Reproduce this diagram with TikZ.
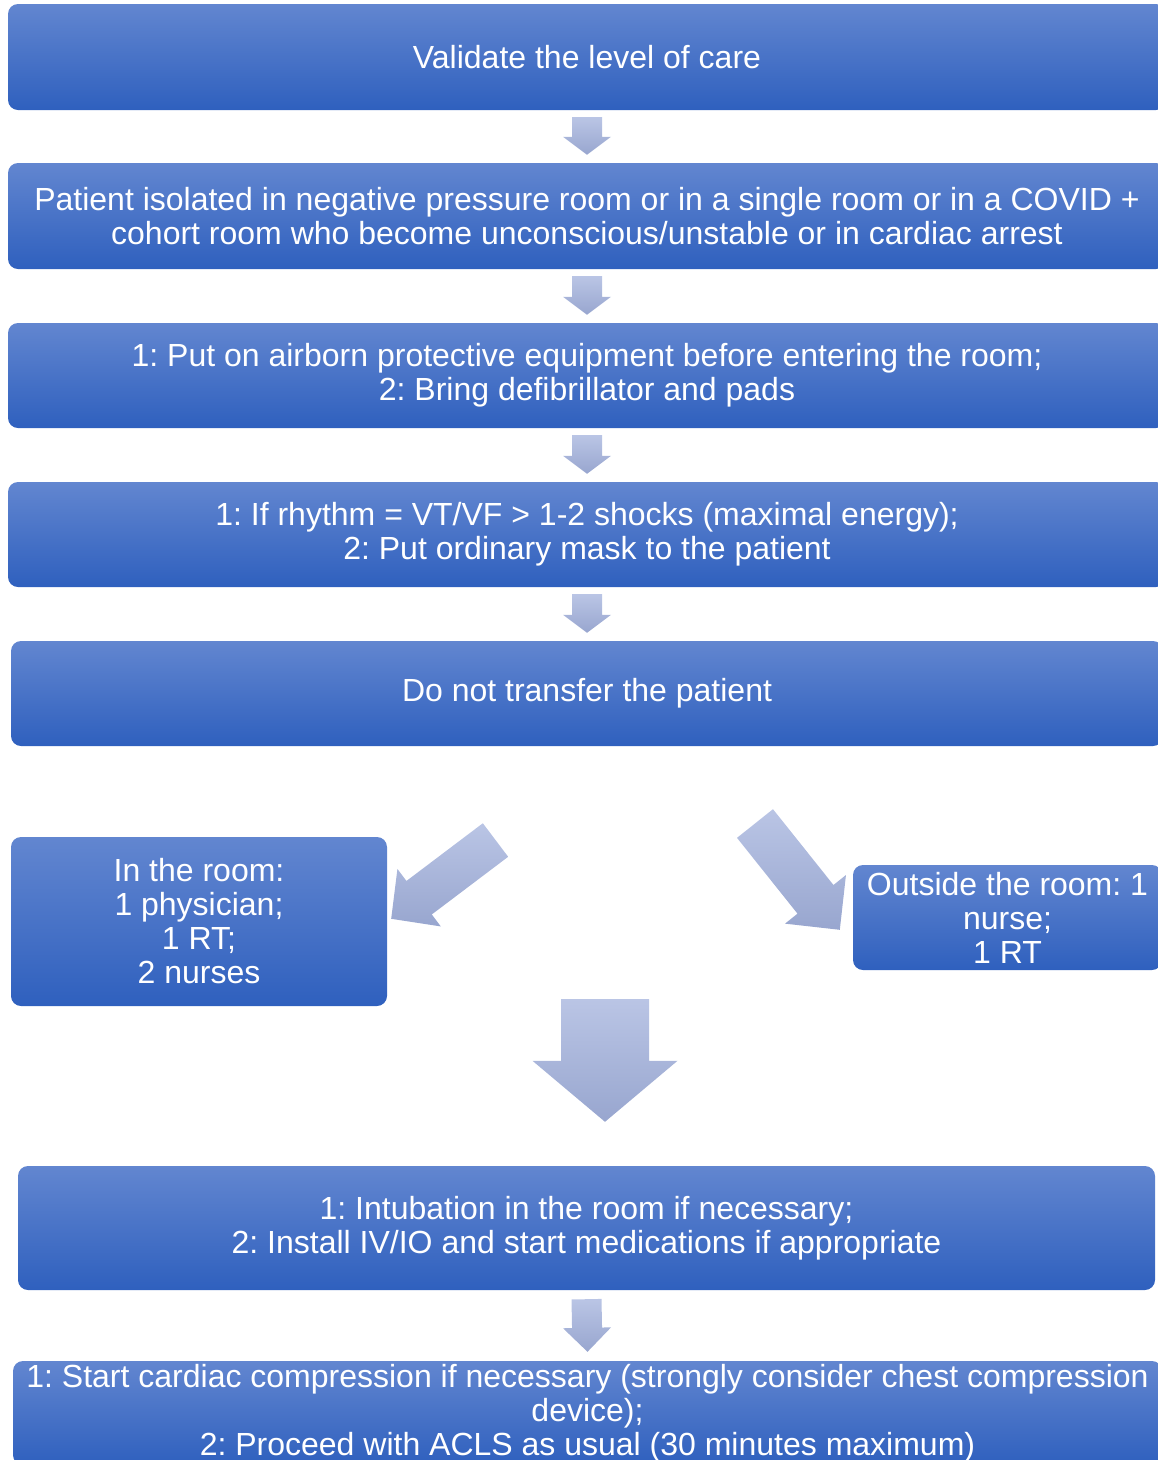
\documentclass[tikz,border=0pt]{standalone}
\usepackage{fontspec}
\setmainfont{Liberation Sans}
\usetikzlibrary{calc}
\definecolor{boxtop}{RGB}{98,134,208}
\definecolor{boxbot}{RGB}{47,96,190}
\definecolor{arrtop}{RGB}{186,197,229}
\definecolor{arrbot}{RGB}{152,166,207}
\frenchspacing
% block arrow: start, tip, shaft half width, head half width, head length
\newcommand{\blockarrow}[5]{%
  \coordinate (ab) at ($(#2)!#5!(#1)$);
  \shade[arrowshade] ($(#1)!#3!90:(#2)$) -- ($(ab)!#3!90:(#2)$) -- ($(ab)!#4!90:(#2)$) -- (#2)
    -- ($(ab)!#4!-90:(#2)$) -- ($(ab)!#3!-90:(#2)$) -- ($(#1)!#3!-90:(#2)$) -- cycle;
}
\begin{document}
\begin{tikzpicture}[x=1pt,y=-1pt,
    flowbox/.style={rectangle, rounded corners=10pt, top color=boxtop, bottom color=boxbot,
      text=white, align=center, inner sep=0pt, font=\fontsize{32}{34}\selectfont},
    arrowshade/.style={top color=arrtop, bottom color=arrbot, draw=none}]
    \useasboundingbox (0,0) rectangle (1158,1460);
    \clip (0,0) rectangle (1158,1460);
    % steps
    \node[flowbox, minimum width=1158pt, minimum height=106pt] (care) at (587,57) {Validate the level of care};
    \node[flowbox, minimum width=1158pt, minimum height=106pt] (isolate) at (587,216)
        {Patient isolated in negative pressure room or in a single room or in a COVID +\\cohort room who become unconscious/unstable or in cardiac arrest};
    \node[flowbox, minimum width=1158pt, minimum height=105pt] (protect) at (587,375.5)
        {1: Put on airborn protective equipment before entering the room;\\2: Bring defibrillator and pads};
    \node[flowbox, minimum width=1158pt, minimum height=105pt] (rhythm) at (587,534.5)
        {1: If rhythm = VT/VF > 1-2 shocks (maximal energy);\\2: Put ordinary mask to the patient};
    \node[flowbox, minimum width=1152pt, minimum height=105pt] (transfer) at (587,693.5) {Do not transfer the patient};
    % team
    \node[flowbox, minimum width=376pt, minimum height=169pt] (room) at (199,921.5)
        {In the room:\\1 physician;\\1 RT;\\2 nurses};
    \node[flowbox, minimum width=309pt, minimum height=105pt] (outside) at (1007.5,917.5)
        {Outside the room: 1\\nurse;\\1 RT};
    % last steps
    \node[flowbox, minimum width=1137pt, minimum height=124pt] (intub) at (586.5,1228)
        {1: Intubation in the room if necessary;\\2: Install IV/IO and start medications if appropriate};
    \node[flowbox, minimum width=1149pt, minimum height=104pt] (acls) at (587.5,1413)
        {1: Start cardiac compression if necessary (strongly consider chest compression\\device);\\2: Proceed with ACLS as usual (30 minutes maximum)};
    % arrows
    \foreach \from/\to in {care/isolate, isolate/protect, protect/rhythm, rhythm/transfer} {
        \coordinate (\from-s) at ($(\from.south)+(0,7)$);
        \coordinate (\to-e) at ($(\to.north)-(0,8)$);
        \blockarrow{\from-s}{\to-e}{15pt}{24pt}{18pt}
    }
    \coordinate (intub-s) at ($(intub.south)+(0,9)$);
    \coordinate (acls-e) at ($(acls.north)-(0,9)$);
    \blockarrow{intub-s}{acls-e}{15pt}{24pt}{24pt}
    \coordinate (left-s) at (495.5,840);
    \coordinate (left-e) at ($(room.north east)+(4,82)$);
    \blockarrow{left-s}{left-e}{21pt}{36pt}{35pt}
    \coordinate (right-s) at (755,823.5);
    \coordinate (right-e) at ($(outside.north west)+(-13,65)$);
    \blockarrow{right-s}{right-e}{23pt}{39pt}{39pt}
    \coordinate (big-s) at (605,999);
    \coordinate (big-e) at ($(intub.north)+(18.5,-44)$);
    \blockarrow{big-s}{big-e}{44pt}{72.5pt}{61pt}
\end{tikzpicture}
\end{document}
